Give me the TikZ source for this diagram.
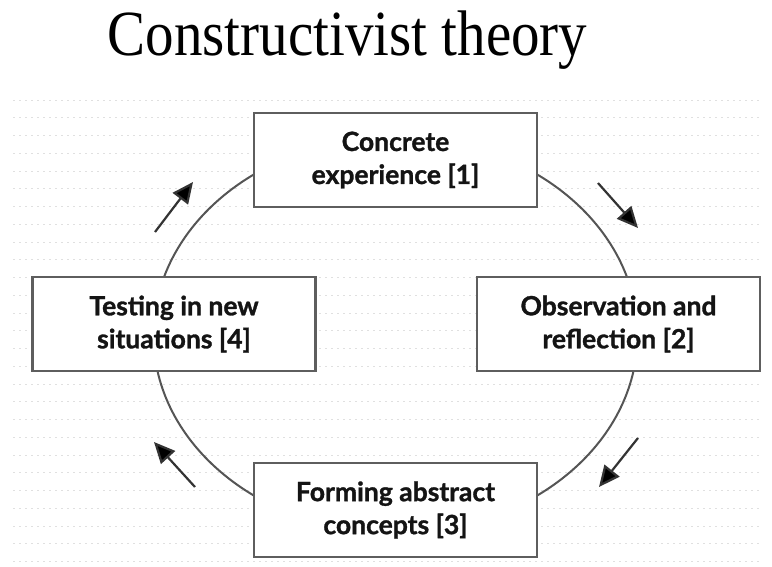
\documentclass[tikz,border=0pt]{standalone}
\usepackage{fontspec}
\setmainfont{Liberation Serif}
\newfontfamily\boxfont{Lato}[BoldFeatures={FakeBold=1.2}]
\usetikzlibrary{arrows.meta}
\definecolor{framegray}{HTML}{5E5E5E}
\definecolor{ringgray}{HTML}{555555}
\definecolor{arrowgray}{HTML}{333333}
\definecolor{rulegray}{HTML}{E0E0E0}
\definecolor{inkblack}{HTML}{141414}
\tikzset{
  ruling/.style={draw=rulegray, line width=1pt, dash pattern=on 1.5pt off 4.5pt},
  ring/.style={draw=ringgray, line width=2pt},
  stagebox/.style={draw=framegray, line width=2.2pt, fill=white,
    minimum width=283pt, minimum height=94pt, inner sep=0pt,
    align=center, text=inkblack,
    font=\boxfont\bfseries\fontsize{26.5}{33}\selectfont},
  cyclearrow/.style={draw=arrowgray, line width=2.2pt,
    -{Triangle[length=21pt,width=19pt,fill=black]}}
}
\begin{document}
\begin{tikzpicture}[x=1pt,y=-1pt]
\useasboundingbox (0,0) rectangle (772,566);
\fill[white] (0,0) rectangle (772,566);
% faint ruled background
\foreach \i in {0,...,26}
  \draw[ruling] (13,100+17.75*\i) -- (762,100+17.75*\i);
% title
\node[anchor=base, inner sep=0pt, text=black] (title) at (347.5,55)
  {\scalebox{1}[1.13]{\fontsize{57}{64}\selectfont Constructivist theory}};
% the cycle
\draw[ring] (395.5,335) ellipse [x radius=242, y radius=198];
\node[stagebox] (concrete) at (395.5,160) {Concrete\\experience [1]};
\node[stagebox] (observe) at (618.5,324) {Observation and\\reflection [2]};
\node[stagebox] (abstract) at (395.5,510) {Forming abstract\\concepts [3]};
\node[stagebox] (testing) at (174,324) {Testing in new\\situations [4]};
% direction arrows
\coordinate (a1s) at (155,232); \coordinate (a1e) at (193,182);
\coordinate (a2s) at (598,183); \coordinate (a2e) at (638,228);
\coordinate (a3s) at (638,438); \coordinate (a3e) at (599,487);
\coordinate (a4s) at (195,487); \coordinate (a4e) at (154,442);
\draw[cyclearrow] (a1s) -- (a1e);
\draw[cyclearrow] (a2s) -- (a2e);
\draw[cyclearrow] (a3s) -- (a3e);
\draw[cyclearrow] (a4s) -- (a4e);
\end{tikzpicture}
\end{document}
